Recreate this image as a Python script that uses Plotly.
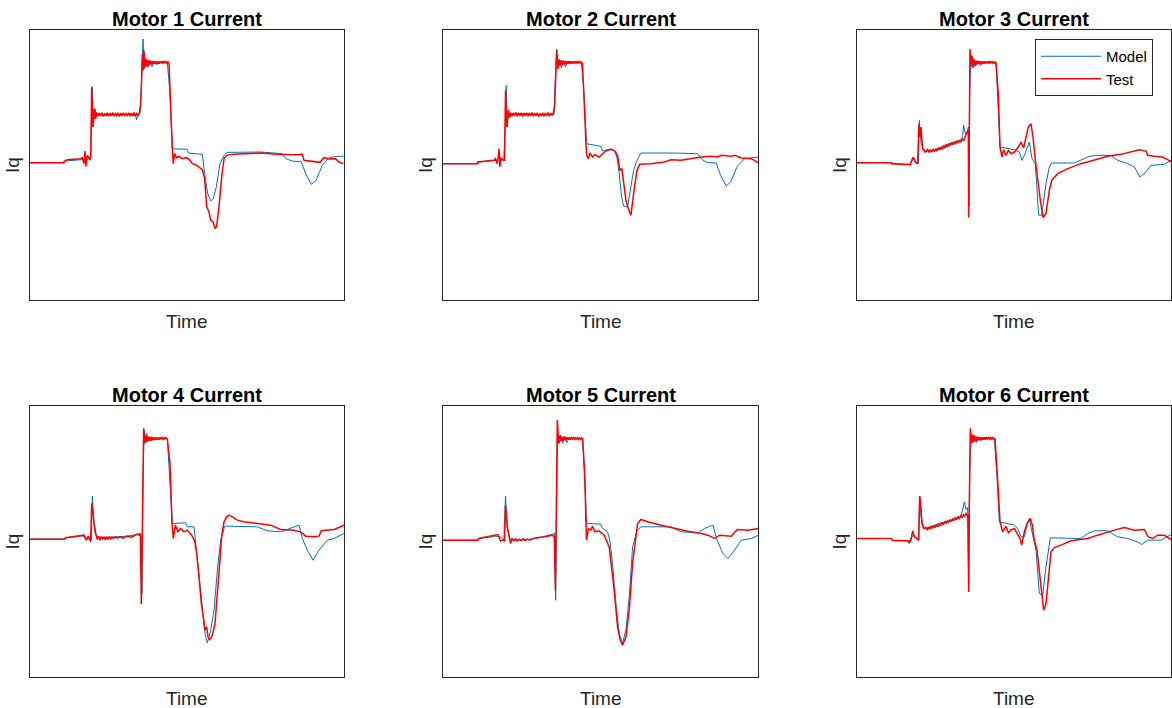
import plotly.graph_objects as go

# ---------------- data (time index, Iq in arbitrary units) ----------------
m1_model = [(0,7),(102,7),(107,12),(157,16),(177,18),(182,14),(185,114),(187,236),(190,114),(195,169),(200,146),(207,156),(217,150),(292,152),(317,148),(320,136),(324,152),(330,154),(334,234),(339,379),(343,289),(348,314),(354,294),(360,314),(366,296),(372,312),(380,302),(392,309),(412,309),(420,214),(427,49),(472,47),(475,36),(517,32),(524,-26),(533,-86),(542,-108),(550,-101),(559,-66),(570,4),(582,29),(592,38),(692,39),(757,34),(767,19),(787,12),(814,9),(827,-26),(844,-58),(858,-46),(877,-1),(897,22),(922,26),(940,26)]
m1_test = [(0,7),(102,7),(102,11),(112,16),(152,19),(157,22),(162,4),(165,42),(168,-4),(172,29),(178,19),(182,22),(185,234),(189,114),(193,169),(197,139),
           (200,158),(204,147),(208,156),(212,148),(216,157),(220,146),(224,155),(228,149),(232,157),(236,147),(240,156),(244,148),(248,158),(252,147),(256,155),(260,149),(264,157),(268,146),(272,156),(276,148),(280,157),(284,147),(288,155),(292,149),(296,157),(300,147),(304,156),(308,148),(312,158),(316,147),(320,155),(324,149),(328,156),
           (332,184),(334,234),(337,334),(340,284),(342,344),(345,294),
           (348,319),(351,296),(354,316),(357,300),(360,314),(363,302),(366,313),(369,303),(372,312),(375,304),(378,312),(381,305),(384,311),(387,305),(390,312),(393,306),(396,311),(399,306),(402,311),(405,307),(408,311),(411,306),(414,310),(417,306),
           (422,164),(427,49),(430,4),(434,34),(440,22),(447,26),(457,19),(470,22),(480,14),(487,4),(497,1),(507,-6),(517,-14),(524,-41),(530,-126),(537,-141),(542,-166),(549,-171),(555,-191),(560,-184),(567,-126),(575,-36),(582,19),(590,29),(612,32),(692,36),(742,32),(792,31),(817,32),(822,14),(842,12),(870,8),(882,22),(897,18),(917,19),(927,9),(940,4)]

m2_model = [(0,4),(104,4),(104,9),(162,14),(182,16),(186,114),(189,239),(192,114),(196,164),(202,146),(212,156),(292,151),(332,152),(336,264),(340,349),(344,294),(349,314),(354,292),(360,314),(366,296),(374,311),(392,309),(414,309),(422,214),(429,64),(472,56),(477,42),(492,46),(512,44),(520,24),(527,-26),(534,-96),(540,-124),(552,-126),(560,-76),(570,-16),(580,14),(592,36),(692,36),(762,34),(777,14),(792,7),(817,6),(830,-31),(847,-63),(860,-51),(880,-4),(902,19),(944,24)]
m2_test = [(0,4),(104,4),(104,9),(152,14),(157,19),(162,4),(165,24),(168,49),(170,-6),(174,22),(180,14),(184,14),(187,224),(191,114),(195,166),(199,142),
           (202,157),(206,147),(210,156),(214,148),(218,158),(222,147),(226,155),(230,149),(234,157),(238,146),(242,156),(246,148),(250,157),(254,147),(258,155),(262,149),(266,158),(270,147),(274,156),(278,148),(282,157),(286,146),(290,155),(294,149),(298,157),(302,147),(306,156),(310,148),(314,158),(318,147),(322,156),(326,149),(330,157),
           (334,180),(337,264),(340,344),(344,289),
           (347,318),(350,298),(353,315),(356,301),(359,314),(362,302),(365,313),(368,303),(371,312),(374,304),(377,313),(380,305),(383,311),(386,305),(389,312),(392,306),(395,311),(398,306),(401,311),(404,307),(407,311),(410,306),(413,310),(417,306),
           (422,174),(429,34),(434,19),(440,36),(447,24),(454,31),(467,24),(477,34),(487,42),(502,48),(514,42),(522,29),(529,-16),(535,-11),(540,-56),(547,-106),(554,-131),(562,-151),(570,-86),(580,-16),(588,2),(622,4),(662,9),(682,16),(712,14),(742,19),(772,24),(802,26),(822,24),(832,29),(862,26),(872,29),(892,21),(922,19),(932,14),(944,6)]

m3_model = [(0,7),(104,7),(104,4),(160,2),(167,14),(172,19),(178,4),(184,4),(187,134),(192,64),(199,49),(207,39),(232,44),(262,59),(292,69),(312,76),(317,89),(320,119),(325,94),(330,96),(334,114),(336,-126),(338,214),(341,314),(345,294),(350,319),(355,296),(362,314),(370,299),(382,309),(417,309),(424,164),(429,54),(472,46),(487,39),(495,14),(504,34),(517,69),(525,19),(535,4),(540,-86),(545,-151),(554,-151),(567,-56),(577,-6),(584,6),(652,6),(692,24),(712,29),(762,29),(782,14),(812,4),(832,-6),(849,-36),(864,-24),(882,-1),(922,2),(942,14)]
m3_test = [(0,7),(104,7),(104,4),(160,1),(164,14),(169,24),(175,9),(182,4),(186,124),(189,84),(192,114),(197,49),(204,39),
           (212,47),(216,38),(220,46),(224,39),(228,48),(232,40),(236,49),(240,42),(244,52),(248,45),(252,54),(256,47),(260,58),(264,51),(268,61),(272,54),(276,65),(280,58),(284,67),(288,61),(292,70),(296,64),(300,72),(304,66),(308,75),(312,69),(316,78),(320,74),(324,86),(328,92),(332,104),
           (334,96),(335,-158),(337,114),(339,349),(342,304),(345,329),
           (348,292),(351,318),(354,300),(357,314),(360,302),(363,313),(366,303),(369,312),(372,304),(375,312),(378,305),(381,311),(384,305),(387,312),(390,306),(393,311),(396,306),(399,311),(402,307),(405,311),(408,306),(411,310),(414,306),(417,309),
           (424,214),(429,54),(435,24),(440,46),(447,29),(454,44),(462,34),(472,39),(484,54),(492,69),(500,52),(507,84),(514,114),(522,124),(528,84),(534,24),(542,-46),(550,-106),(558,-158),(567,-146),(577,-76),(584,-46),(602,-26),(632,-11),(672,4),(712,14),(752,26),(792,32),(832,42),(847,46),(867,42),(872,29),(892,26),(917,24),(932,16),(942,9)]

m4_model = [(0,7),(102,7),(107,11),(157,17),(170,9),(180,12),(184,4),(187,136),(192,54),(199,19),(207,11),(252,14),(292,16),(322,21),(330,24),(333,14),(336,-156),(338,114),(342,334),(346,304),(350,324),(355,302),(362,312),(372,306),(392,310),(412,309),(420,184),(427,54),(467,56),(472,44),(492,44),(497,-6),(507,-86),(517,-206),(525,-276),(532,-304),(542,-266),(552,-206),(562,-86),(572,4),(584,46),(682,44),(712,32),(752,29),(782,39),(807,49),(817,9),(832,-26),(849,-56),(867,-26),(892,4),(912,9),(942,24)]
m4_test = [(0,7),(102,7),(107,11),(152,18),(162,19),(169,4),(175,16),(182,-1),(185,114),(189,84),(195,29),
           (202,6),(206,16),(210,4),(214,15),(218,6),(222,14),(226,5),(230,13),(234,7),(238,15),(242,8),(246,13),(250,9),(256,14),(262,10),(270,14),(280,10),(292,16),(305,13),(315,17),(322,22),(328,19),(331,24),
           (334,-188),(337,114),(341,339),(345,294),
           (348,318),(351,298),(354,315),(357,301),(360,314),(363,302),(366,313),(369,303),(372,312),(375,304),(378,312),(381,305),(384,311),(387,305),(390,312),(393,306),(396,311),(399,306),(402,311),(405,307),(408,311),(412,307),
           (420,234),(426,54),(430,9),(436,49),(444,29),(452,39),(462,29),(472,34),(485,19),(494,2),(500,-36),(507,-106),(514,-186),(520,-226),(525,-266),(530,-256),(534,-286),(540,-294),(547,-281),(555,-246),(562,-166),(569,-66),(575,14),(582,59),(590,74),(597,79),(607,74),(622,64),(642,59),(692,54),(722,49),(752,36),(792,34),(812,29),(827,16),(852,14),(867,16),(874,32),(912,36),(927,42),(942,49)]

m5_model = [(0,4),(104,4),(107,9),(157,16),(172,14),(182,4),(187,136),(192,44),(199,9),(212,4),(252,6),(292,12),(327,22),(334,24),(337,-176),(339,164),(342,324),(347,294),(352,319),(358,294),(364,316),(370,296),(378,312),(392,308),(417,309),(424,194),(429,54),(472,52),(477,39),(492,29),(499,2),(507,-66),(517,-186),(527,-276),(537,-304),(547,-266),(557,-166),(567,-16),(580,32),(592,44),(682,44),(712,29),(762,26),(782,39),(807,49),(820,4),(837,-36),(852,-51),(872,-26),(892,4),(922,9),(944,19)]
m5_test = [(0,4),(104,4),(107,9),(157,18),(164,21),(172,2),(179,4),(184,2),(187,109),(192,44),(197,14),(202,-6),(207,9),(212,2),(217,8),(222,1),(228,7),(234,3),(240,8),(246,3),(252,7),(260,4),(272,10),(292,12),(312,16),(327,19),(333,14),
           (336,-146),(339,214),(342,364),(346,294),
           (349,318),(352,300),(355,314),(358,302),(361,313),(364,303),(367,312),(370,304),(373,312),(376,305),(379,311),(382,305),(385,312),(388,306),(391,311),(394,306),(397,311),(400,307),(403,311),(406,306),(409,310),(412,306),(415,310),(418,306),
           (424,194),(429,4),(435,39),(442,34),(447,46),(454,29),(467,32),(482,19),(497,-16),(512,-146),(522,-256),(530,-296),(537,-311),(547,-286),(557,-206),(567,-66),(582,54),(592,66),(612,59),(652,49),(692,39),(732,31),(772,24),(792,19),(812,9),(827,19),(862,16),(880,36),(912,34),(944,39)]

m6_model = [(0,9),(102,9),(107,2),(157,2),(164,14),(172,19),(180,6),(185,4),(188,136),(192,74),(199,46),(207,39),(252,56),(292,64),(312,74),(317,94),(322,119),(327,96),(332,102),(335,-126),(338,214),(342,319),(347,299),(352,319),(358,296),(364,314),(372,302),(382,312),(412,309),(420,194),(427,59),(472,49),(482,39),(492,14),(502,14),(509,44),(517,69),(527,19),(537,-26),(547,-156),(557,-161),(567,-76),(580,11),(672,9),(692,24),(712,32),(752,32),(782,14),(812,9),(842,-1),(854,-9),(872,4),(912,4),(942,21)]
m6_test = [(0,9),(102,9),(107,4),(152,2),(157,-4),(162,4),(167,32),(172,14),(180,9),(185,4),(188,136),(191,114),(195,54),(200,39),
           (207,42),(211,34),(215,44),(219,37),(223,46),(227,39),(231,48),(235,42),(239,51),(243,44),(247,53),(251,47),(255,57),(259,50),(263,60),(267,53),(271,63),(275,57),(279,66),(283,60),(287,69),(291,63),(295,72),(299,66),(303,75),(307,69),(311,77),(315,72),(319,80),(323,76),(327,84),(331,78),(333,80),
           (335,-151),(337,114),(340,339),(344,294),
           (347,320),(350,298),(353,316),(356,300),(359,314),(362,302),(365,313),(368,303),(371,312),(374,304),(377,312),(380,305),(383,311),(386,305),(389,312),(392,306),(395,311),(398,306),(401,311),(404,307),(407,311),(410,306),(414,308),
           (422,184),(429,59),(437,29),(447,46),(454,26),(462,34),(472,39),(482,19),(489,9),(494,-11),(502,29),(510,54),(520,69),(526,49),(532,4),(540,-26),(548,-106),(555,-176),(560,-206),(567,-186),(574,-116),(582,-31),(592,-18),(612,-11),(642,2),(692,9),(722,19),(752,29),(772,34),(802,42),(832,34),(862,36),(874,14),(887,9),(902,19),(922,19),(942,6)]

motors = ["Motor 1 Current", "Motor 2 Current", "Motor 3 Current",
          "Motor 4 Current", "Motor 5 Current", "Motor 6 Current"]
model_data = [m1_model, m2_model, m3_model, m4_model, m5_model, m6_model]
test_data = [m1_test, m2_test, m3_test, m4_test, m5_test, m6_test]

# ---------------- layout ----------------
W, H = 1172, 708
col_px = [(30, 344), (443, 758), (857, 1171)]
row_px = [(30, 300), (406, 677)]
FONT = "Liberation Sans, Arial, sans-serif"
AXC = "#262626"

fig = go.Figure()
layout = dict(width=W, height=H, margin=dict(l=0, r=0, t=0, b=0),
              paper_bgcolor="white", plot_bgcolor="white",
              font=dict(family=FONT, color=AXC))
annotations = []
for i in range(6):
    r, c = divmod(i, 3)
    x0, x1 = col_px[c]
    y0, y1 = row_px[r]
    xd = [x0 / W, x1 / W]
    yd = [1 - y1 / H, 1 - y0 / H]
    sfx = "" if i == 0 else str(i + 1)
    xa, ya = "x" + sfx, "y" + sfx
    common = dict(showgrid=False, zeroline=False, showticklabels=False, ticks="",
                  showline=True, mirror=True, linecolor=AXC, linewidth=1)
    layout["xaxis" + sfx] = dict(domain=xd, range=[0, 942], anchor=ya, **common)
    layout["yaxis" + sfx] = dict(domain=yd, range=[-406, 406], anchor=xa, **common)

    mt, mv = zip(*model_data[i])
    tt, tv = zip(*test_data[i])
    fig.add_trace(go.Scatter(x=mt, y=mv, mode="lines", name="Model",
                             line=dict(color="#0072BD", width=1),
                             xaxis=xa, yaxis=ya, showlegend=(i == 0)))
    fig.add_trace(go.Scatter(x=tt, y=tv, mode="lines", name="Test",
                             line=dict(color="#FF0000", width=1.5),
                             xaxis=xa, yaxis=ya, showlegend=(i == 0)))

    cx = (x0 + x1) / 2 / W
    annotations.append(dict(text="<b>" + motors[i] + "</b>", x=cx, y=1 - (y0 - 11) / H,
                            xref="paper", yref="paper", showarrow=False,
                            xanchor="center", yanchor="middle",
                            font=dict(size=20, color="black", family=FONT)))
    annotations.append(dict(text="Time", x=cx, y=1 - (y1 + 21) / H,
                            xref="paper", yref="paper", showarrow=False,
                            xanchor="center", yanchor="middle",
                            font=dict(size=19, color=AXC, family=FONT)))
    annotations.append(dict(text="Iq", x=(x0 - 18) / W, y=1 - ((y0 + y1) / 2) / H,
                            xref="paper", yref="paper", showarrow=False,
                            textangle=-90, xanchor="center", yanchor="middle",
                            font=dict(size=19, color=AXC, family=FONT)))

layout["annotations"] = annotations
layout["legend"] = dict(x=1153 / W, y=1 - 39 / H, xanchor="right", yanchor="top",
                        bgcolor="white", bordercolor=AXC, borderwidth=1,
                        font=dict(size=15, color="black", family=FONT),
                        itemwidth=60, tracegroupgap=0)
fig.update_layout(**layout)
fig.write_html("out.html", config={"displayModeBar": False},
               post_script="document.body.style.margin='0';document.body.style.overflow='hidden';")
